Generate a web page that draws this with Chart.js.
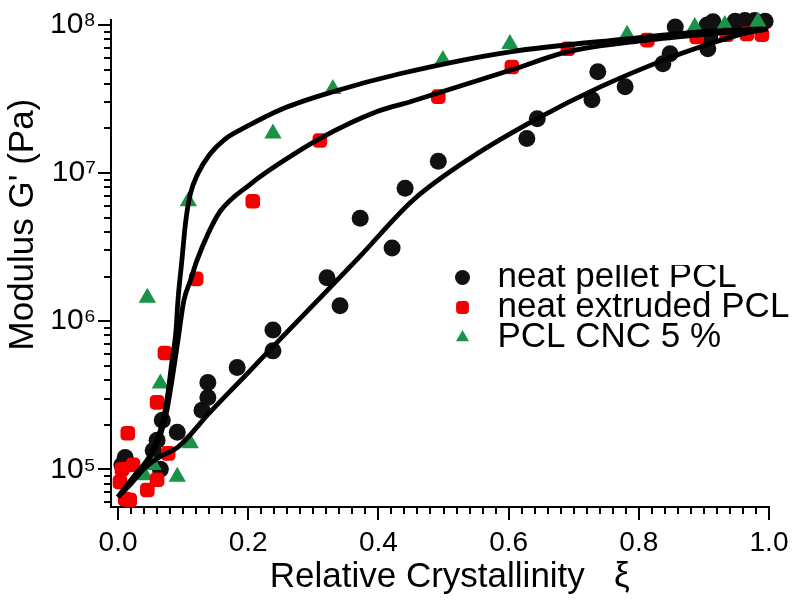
<!DOCTYPE html>
<html>
<head>
<meta charset="utf-8">
<script src="https://cdn.jsdelivr.net/npm/chart.js@4/dist/chart.umd.min.js"></script>
<style>
html,body{margin:0;padding:0;background:#fff;}
#wrap{width:800px;height:612px;position:relative;}
</style>
</head>
<body>
<div id="wrap"><canvas id="c" width="800" height="612"></canvas></div>
<script>
// ---- data ----
const pelletX = [0.006,0.011,0.054,0.060,0.065,0.068,0.091,0.129,0.138,0.138,0.183,0.238,0.238,0.321,0.341,0.372,0.421,0.441,0.492,0.628,0.644,0.728,0.737,0.779,0.837,0.848,0.856,0.906,0.905,0.909,0.914,0.948,0.963,0.978,0.994];
const pelletY = [1.07e5,1.2e5,1.34e5,1.57e5,1.0e5,2.14e5,1.78e5,2.5e5,3.05e5,3.85e5,4.86e5,6.3e5,8.7e5,1.96e6,1.27e6,4.96e6,3.12e6,7.9e6,1.2e7,1.71e7,2.33e7,3.13e7,4.83e7,3.83e7,5.47e7,6.38e7,9.7e7,6.9e7,1.0e8,8.3e7,1.05e8,1.06e8,1.07e8,1.07e8,1.06e8];

const extrudedX = [0.003,0.006,0.011,0.015,0.018,0.023,0.045,0.060,0.060,0.072,0.077,0.120,0.207,0.310,0.492,0.605,0.691,0.813,0.889,0.935,0.966,0.989];
const extrudedY = [8.2e4,1.0e5,6.3e4,1.75e5,6.2e4,1.07e5,7.25e4,8.5e4,2.83e5,6.1e5,1.28e5,1.93e6,6.45e6,1.66e7,3.28e7,5.2e7,6.9e7,7.9e7,8.3e7,8.6e7,8.7e7,8.6e7];

const cncX = [0.041,0.045,0.054,0.065,0.091,0.108,0.111,0.238,0.330,0.499,0.602,0.782,0.886,0.932,0.983];
const cncY = [9.1e4,1.44e6,1.07e5,3.8e5,8.9e4,6.45e6,1.5e5,1.85e7,3.7e7,5.8e7,7.45e7,8.6e7,9.7e7,1.0e8,1.05e8];

// fitted curves
const fitPelletX = [0,0.018,0.041,0.065,0.092,0.141,0.203,0.238,0.306,0.372,0.453,0.541,0.644,0.740,0.843,0.894,0.955,0.998];
const fitPelletY = [6.5e4,7.8e4,1.02e5,1.22e5,1.41e5,2.42e5,4.64e5,6.73e5,1.37e6,2.75e6,6.55e6,1.26e7,2.33e7,3.8e7,5.9e7,7.1e7,8.6e7,9.4e7];

const fitExtrudedX = [0,0.026,0.049,0.065,0.075,0.084,0.092,0.101,0.111,0.121,0.138,0.157,0.203,0.253,0.310,0.398,0.449,0.605,0.690,0.813,0.894,0.991];
const fitExtrudedY = [6.5e4,9.1e4,1.2e5,1.69e5,2.49e5,4.3e5,7.4e5,1.37e6,1.87e6,2.55e6,3.87e6,5.52e6,8.4e6,1.2e7,1.71e7,2.6e7,3.03e7,4.98e7,6.58e7,7.9e7,8.58e7,9.26e7];

const fitCncX = [0,0.026,0.049,0.065,0.075,0.083,0.089,0.092,0.098,0.104,0.111,0.123,0.141,0.164,0.192,0.253,0.330,0.433,0.602,0.782,0.894,0.991];
const fitCncY = [6.5e4,9.1e4,1.24e5,1.83e5,2.92e5,5.42e5,8.6e5,1.37e6,2.55e6,4.73e6,7.2e6,9.96e6,1.34e7,1.69e7,2.0e7,2.72e7,3.54e7,4.68e7,6.58e7,8.05e7,8.98e7,9.4e7];

const xTicks = [0,0.2,0.4,0.6,0.8,1.0];
const yTicks = [1e5,1e6,1e7,1e8];
const seriesNames = ['neat pellet PCL','neat extruded PCL','PCL CNC 5 %'];

const zip = (xs, ys) => xs.map((x, i) => ({x: x, y: ys[i]}));
const sup = {'5':'\u2075','6':'\u2076','7':'\u2077','8':'\u2078'};

const FONT = '"Liberation Sans", Arial, sans-serif';

const minorTicks = {
  id: 'minorTicks',
  afterDraw(chart) {
    const ctx = chart.ctx;
    const xs = chart.scales.x, ys = chart.scales.y;
    ctx.save();
    ctx.strokeStyle = '#000';
    ctx.lineWidth = 2;
    ctx.beginPath();
    for (let i = 1; i < 50; i++) {
      if (i % 10 === 0) continue;
      const v = i * 0.02;
      const px = Math.round(xs.getPixelForValue(v));
      ctx.moveTo(px, xs.top);
      ctx.lineTo(px, xs.top + 7);
    }
    for (let e = 4; e <= 8; e++) {
      for (let k = 2; k <= 9; k++) {
        const v = k * Math.pow(10, e);
        if (v < ys.min || v > ys.max) continue;
        const py = Math.round(ys.getPixelForValue(v));
        ctx.moveTo(ys.right, py);
        ctx.lineTo(ys.right - 7, py);
      }
    }
    ctx.stroke();
    ctx.restore();
  }
};

const placeLegend = {
  id: 'placeLegend',
  afterLayout(chart) {
    const lg = chart.legend;
    if (!lg) return;
    const w = lg.width, h = lg.height;
    lg.left = 450; lg.top = 265;
    lg.right = lg.left + w; lg.bottom = lg.top + h;
  }
};

new Chart(document.getElementById('c'), {
  type: 'scatter',
  data: {
    datasets: [
      {label: seriesNames[0], data: zip(pelletX, pelletY), pointStyle: 'circle', pointRadius: 8.5,
       backgroundColor: '#111', borderColor: '#111', borderWidth: 0, order: 5, clip: false},
      {label: seriesNames[1], data: zip(extrudedX, extrudedY), pointStyle: 'rectRounded', pointRadius: 8.5,
       backgroundColor: '#f40000', borderColor: '#f40000', borderWidth: 0, order: 3, clip: false},
      {label: seriesNames[2], data: zip(cncX, cncY), pointStyle: 'triangle', pointRadius: 10,
       backgroundColor: '#1a9348', borderColor: '#1a9348', borderWidth: 0, order: 4, clip: false},
      {type: 'line', label: 'fit1', data: zip(fitPelletX, fitPelletY), borderColor: '#000', borderWidth: 4.8,
       pointRadius: 0, fill: false, cubicInterpolationMode: 'monotone', order: 1, clip: false},
      {type: 'line', label: 'fit2', data: zip(fitExtrudedX, fitExtrudedY), borderColor: '#000', borderWidth: 4.8,
       pointRadius: 0, fill: false, cubicInterpolationMode: 'monotone', order: 1, clip: false},
      {type: 'line', label: 'fit3', data: zip(fitCncX, fitCncY), borderColor: '#000', borderWidth: 4.8,
       pointRadius: 0, fill: false, cubicInterpolationMode: 'monotone', order: 1, clip: false}
    ]
  },
  options: {
    responsive: false,
    animation: false,
    events: [],
    layout: {padding: {left: 0, top: 18, right: 31, bottom: 0}},
    plugins: {
      tooltip: {enabled: false},
      legend: {
        position: 'chartArea',
        align: 'start',
        labels: {
          usePointStyle: true, boxWidth: 35, boxHeight: 10.6, padding: -5,
          color: '#000', font: {family: FONT, size: 35},
          filter: (item) => item.datasetIndex < 3,
          sort: (a, b) => a.datasetIndex - b.datasetIndex
        }
      }
    },
    scales: {
      x: {
        type: 'linear', min: -0.0108, max: 1.0,
        afterBuildTicks: (s) => { s.ticks = xTicks.map(v => ({value: v})); },
        afterFit: (s) => { s.height = 105; },
        border: {display: true, color: '#000', width: 2},
        grid: {display: true, drawOnChartArea: false, drawTicks: true, tickLength: 13, color: '#000', lineWidth: 2},
        ticks: {color: '#000', padding: 6, font: {family: FONT, size: 28},
                callback: (v) => Number(v).toFixed(1), maxRotation: 0},
        title: {display: true, text: '  Relative Crystallinity   \u03be', color: '#000',
                font: {family: FONT, size: 35}, padding: {top: 4, bottom: 14}}
      },
      y: {
        type: 'logarithmic', min: 55600, max: 1.08e8,
        afterBuildTicks: (s) => { s.ticks = yTicks.map(v => ({value: v})); },
        afterFit: (s) => { s.width = 111; },
        border: {display: true, color: '#000', width: 2},
        grid: {display: true, drawOnChartArea: false, drawTicks: true, tickLength: 13, color: '#000', lineWidth: 2},
        ticks: {color: '#000', padding: 2, font: {family: FONT, size: 30},
                callback: (v) => '10' + sup[String(Math.round(Math.log10(v)))]},
        title: {display: true, text: "        Modulus G' (Pa)", color: '#000',
                font: {family: FONT, size: 35}, padding: {top: 2, bottom: 0}}
      }
    }
  },
  plugins: [minorTicks, placeLegend]
});
</script>
</body>
</html>
